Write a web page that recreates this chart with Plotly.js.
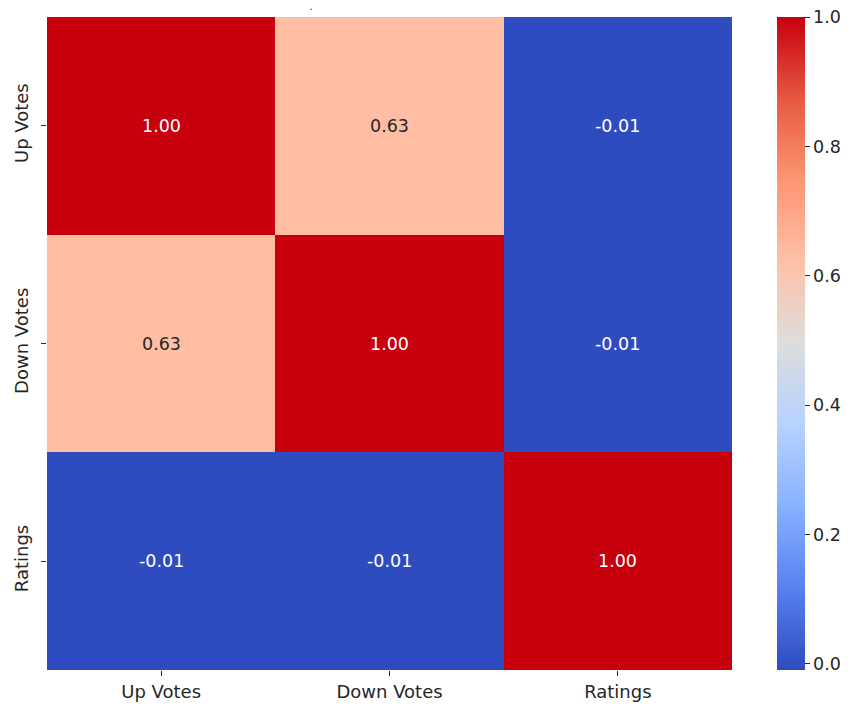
<!DOCTYPE html>
<html>
<head>
<meta charset="utf-8">
<script src="https://cdn.plot.ly/plotly-3.0.1.min.js"></script>
<style>html,body{margin:0;padding:0;background:#fff;}#chart{width:855px;height:708px;}</style>
</head>
<body>
<div id="chart"></div>
<script>
const labels = ["Up Votes", "Down Votes", "Ratings"];
const upVotes = [1.00, 0.63, -0.0093];
const downVotes = [0.63, 1.00, -0.0093];
const ratings = [-0.0093, -0.0093, 1.00];
const z = [upVotes, downVotes, ratings];
const cbTicks = [0.0, 0.2, 0.4, 0.6, 0.8, 1.0];

const coolwarm = [
  [0.0, "rgb(46,76,191)"],
  [0.125, "rgb(88,128,240)"],
  [0.25, "rgb(135,178,255)"],
  [0.375, "rgb(182,210,255)"],
  [0.5, "rgb(221,221,221)"],
  [0.625, "rgb(255,193,167)"],
  [0.75, "rgb(252,150,115)"],
  [0.875, "rgb(230,88,66)"],
  [1.0, "rgb(200,0,14)"]
];

const annotations = [];
z.forEach((row, i) => {
  row.forEach((v, j) => {
    const light = v > 0.3 && v < 0.8;
    annotations.push({
      x: labels[j], y: labels[i], xref: "x", yref: "y",
      text: v.toFixed(2), showarrow: false,
      font: {family: "DejaVu Sans", size: 17.5, color: light ? "#262626" : "#ffffff"}
    });
  });
});

const trace = {
  type: "heatmap",
  x: labels, y: labels, z: z,
  zmin: -0.0093, zmax: 1.0,
  colorscale: coolwarm,
  xgap: 0, ygap: 0,
  hoverinfo: "none",
  colorbar: {
    x: (777 - 47) / 685, xanchor: "left", xref: "paper",
    y: 0, yanchor: "bottom", len: 1, lenmode: "fraction",
    thickness: 28, thicknessmode: "pixels",
    outlinewidth: 0, xpad: 0, ypad: 0,
    tickvals: cbTicks, ticktext: cbTicks.map(v => v.toFixed(1)),
    ticks: "outside", ticklen: 5, tickwidth: 1, tickcolor: "#262626",
    tickfont: {family: "DejaVu Sans", size: 17.5, color: "#262626"}
  }
};

const layout = {
  width: 855, height: 708,
  margin: {l: 47, r: 123, t: 17, b: 38, pad: 0, autoexpand: false},
  paper_bgcolor: "#ffffff", plot_bgcolor: "#ffffff",
  title: {text: ".", x: 311 / 855, xanchor: "center", y: 1, yref: "container", yanchor: "top", pad: {t: 3},
          font: {family: "DejaVu Sans", size: 10, color: "#262626"}},
  xaxis: {
    showgrid: false, zeroline: false, showline: false,
    ticks: "outside", ticklen: 5, tickwidth: 1, tickcolor: "#262626",
    tickfont: {family: "DejaVu Sans", size: 18, color: "#262626"}
  },
  yaxis: {
    autorange: "reversed", showgrid: false, zeroline: false, showline: false,
    ticks: "outside", ticklen: 5, tickwidth: 1, tickcolor: "#262626",
    tickangle: -90, ticklabelstandoff: 6,
    tickfont: {family: "DejaVu Sans", size: 18, color: "#262626"}
  },
  annotations: annotations
};

Plotly.newPlot("chart", [trace], layout, {displayModeBar: false, staticPlot: true});
</script>
</body>
</html>
